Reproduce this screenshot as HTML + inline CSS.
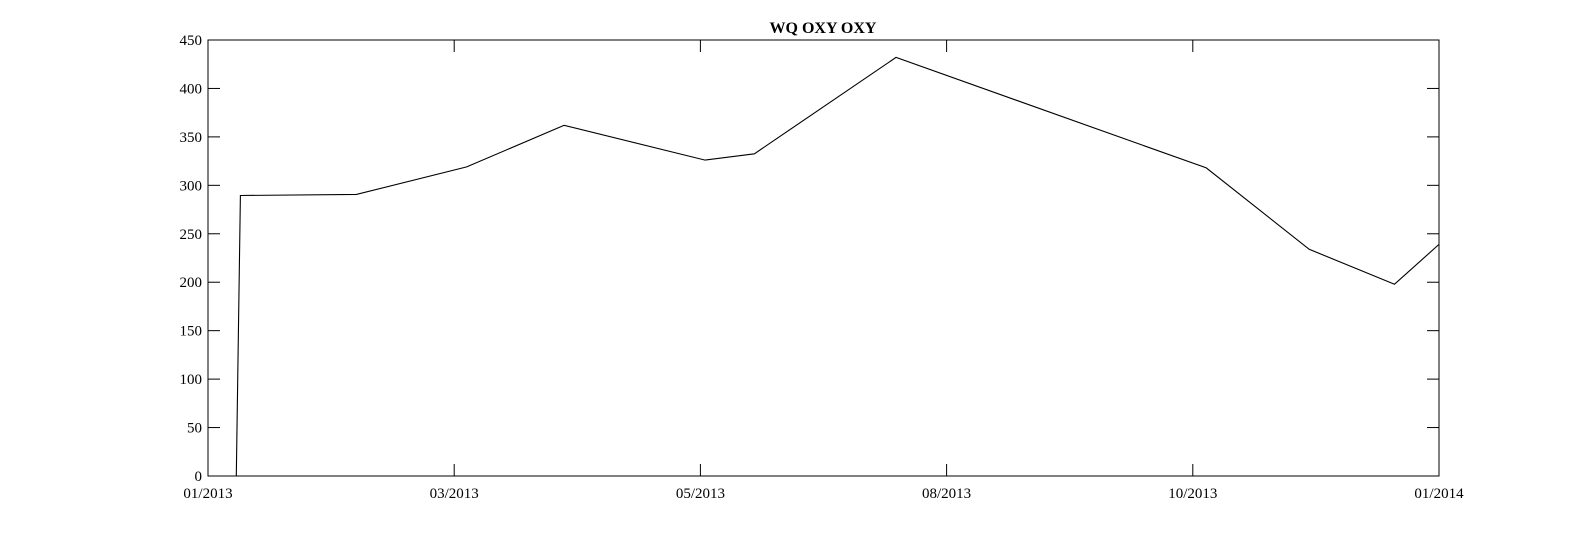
<!DOCTYPE html>
<html><head><meta charset="utf-8"><style>
body{margin:0;background:#fff;}
svg{display:block;font-family:"Liberation Serif",serif;}
</style></head><body>
<svg id="chart" width="1591" height="536" xmlns="http://www.w3.org/2000/svg">
<text x="823" y="33" text-anchor="middle" font-size="16" font-weight="bold">WQ OXY OXY</text>
<g id="axes"></g>
<path id="series" fill="none" stroke="#000" stroke-width="1.1"/>
<rect x="208" y="40" width="1231" height="436" fill="none" stroke="#000" stroke-width="1"/>
</svg>
<script>
const days=[0,8.4,9.6,44,76.7,105.6,147.4,162,204,296,326.5,351.8,365];
const values=[0,0,289.5,290.6,319,362,326,332.5,432,318,234,198,239];
const yTicks=[0,50,100,150,200,250,300,350,400,450];
const xTickDays=[0,73,146,219,292,365];
const xTickLabels=["01/2013","03/2013","05/2013","08/2013","10/2013","01/2014"];
const L=208,R=1439,T=40,B=476;
const xs=d=>L+d/365*(R-L);
const ys=v=>B-v/450*(B-T);
const ns="http://www.w3.org/2000/svg";
const g=document.getElementById('axes');
function mk(t,a){const e=document.createElementNS(ns,t);for(const k in a)e.setAttribute(k,a[k]);return e;}
yTicks.forEach(v=>{
  const y=ys(v);
  const t1=mk('line',{x1:L,x2:L+12,y1:y,y2:y,stroke:'#000'});
  
  
  g.appendChild(t1);
  const t2=mk('line',{x1:R-12,x2:R,y1:y,y2:y,stroke:'#000'});
  
  
  g.appendChild(t2);
  const tx=mk('text',{x:L-6,y:y+5,'text-anchor':'end','font-size':15});
  
  
  tx.textContent=v;g.appendChild(tx);
});
xTickDays.forEach((d,i)=>{
  const x=xs(d);
  const t1=mk('line',{x1:x,x2:x,y1:B,y2:B-12,stroke:'#000'});
  
  
  g.appendChild(t1);
  const t2=mk('line',{x1:x,x2:x,y1:T,y2:T+12,stroke:'#000'});
  
  
  g.appendChild(t2);
  const tx=mk('text',{x:x,y:B+22,'text-anchor':'middle','font-size':15});
  
  
  tx.textContent=xTickLabels[i];g.appendChild(tx);
});
document.getElementById('series').setAttribute('d',days.map((d,i)=>(i?'L':'M')+xs(d).toFixed(1)+' '+ys(values[i]).toFixed(1)).join(' '));
</script>
</body></html>
